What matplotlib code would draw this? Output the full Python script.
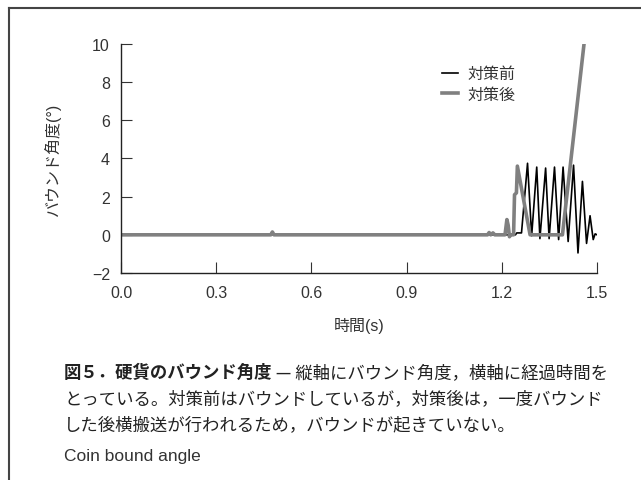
import matplotlib
matplotlib.use('Agg')
import matplotlib.pyplot as plt
from matplotlib.lines import Line2D

plt.rcParams['font.family'] = ['Liberation Sans', 'Noto Sans CJK JP']

# 対策前 (before countermeasure) - black
t_before = [0.0, 1.243, 1.247, 1.262, 1.281, 1.294, 1.310, 1.320, 1.338, 1.349,
            1.366, 1.379, 1.393, 1.409, 1.426, 1.440, 1.454, 1.467, 1.478,
            1.488, 1.494, 1.500]
y_before = [0.0, 0.0, 0.1, 0.1, 3.75, -0.05, 3.55, -0.2, 3.5, -0.2,
            3.55, -0.25, 3.55, -0.35, 3.65, -0.95, 2.8, -0.45, 1.0,
            -0.25, 0.05, 0.0]

# 対策後 (after countermeasure) - gray
t_after = [0.0, 0.472, 0.477, 0.482, 1.155, 1.160, 1.165, 1.172, 1.178, 1.210,
           1.213, 1.216, 1.220, 1.224, 1.228, 1.237, 1.240, 1.246, 1.249,
           1.289, 1.391, 1.459]
y_after = [0.0, 0.0, 0.15, 0.0, 0.0, 0.12, 0.0, 0.1, 0.0, 0.0,
           0.4, 0.8, 0.5, -0.1, 0.0, 0.0, 2.1, 2.2, 3.6,
           0.0, 0.0, 10.0]

x_ticks = [0.0, 0.3, 0.6, 0.9, 1.2, 1.5]
y_ticks = [-2, 0, 2, 4, 6, 8, 10]

txt = '#333333'
cjk = ['Noto Sans CJK JP', 'DejaVu Sans']
fig = plt.figure(figsize=(6.41, 4.81), dpi=100)
ax = fig.add_axes([0.1888, 0.4304, 0.7426, 0.476])

ax.plot(t_before, y_before, color='black', lw=1.2, label='対策前')
ax.plot(t_after, y_after, color='#808080', lw=2.6, label='対策後')

ax.set_xlim(0, 1.5)
ax.set_ylim(-2, 10)
ax.set_xticks(x_ticks)
ax.set_xticklabels(['%.1f' % v for v in x_ticks])
ax.set_yticks(y_ticks)
ax.set_yticklabels(['\u22122' if v < 0 else str(v) for v in y_ticks])
ax.tick_params(direction='in', length=8, width=0.8, colors=txt, labelsize=11.5)
ax.tick_params(axis='x', pad=9)
ax.tick_params(axis='y', pad=8)
for s in ['top', 'right']:
    ax.spines[s].set_visible(False)
for s in ['left', 'bottom']:
    ax.spines[s].set_color('#222222')
    ax.spines[s].set_linewidth(1.0)

ax.set_xlabel('時間(s)', fontsize=11.5, color=txt, labelpad=12)
ax.set_ylabel('バウンド角度(°)', fontsize=11.5, color=txt, labelpad=22)

ax.legend(loc='upper left', bbox_to_anchor=(0.645, 0.965), frameon=False,
          fontsize=11.5, handlelength=1.0, handletextpad=0.6, labelspacing=0.35,
          labelcolor=txt)

# page frame (top and left)
fig.add_artist(Line2D([9/641, 1.0], [1 - 9/481, 1 - 9/481], color='#444444', lw=1.5,
                      transform=fig.transFigure))
fig.add_artist(Line2D([9/641, 9/641], [0, 1 - 9/481], color='#444444', lw=1.5,
                      transform=fig.transFigure))

# caption
fs = 12.5
t1 = fig.text(64/641, 1 - 373/481, '図５．硬貨のバウンド角度', fontsize=fs,
              fontweight='bold', color='#222222', va='center', family=cjk)
ax.annotate(' — 縦軸にバウンド角度，横軸に経過時間を', xy=(1, 0.5), xycoords=t1,
            va='center', fontsize=fs, color='#222222', family=cjk)
fig.text(64/641, 1 - 399/481, 'とっている。対策前はバウンドしているが，対策後は，一度バウンド',
         fontsize=fs, color='#222222', va='center', family=cjk)
fig.text(64/641, 1 - 425/481, 'した後横搬送が行われるため，バウンドが起きていない。',
         fontsize=fs, color='#222222', va='center', family=cjk)
fig.text(64/641, 1 - 457/481, 'Coin bound angle', fontsize=fs, color='#333333',
         va='center')

fig.savefig('out.png', dpi=100)
